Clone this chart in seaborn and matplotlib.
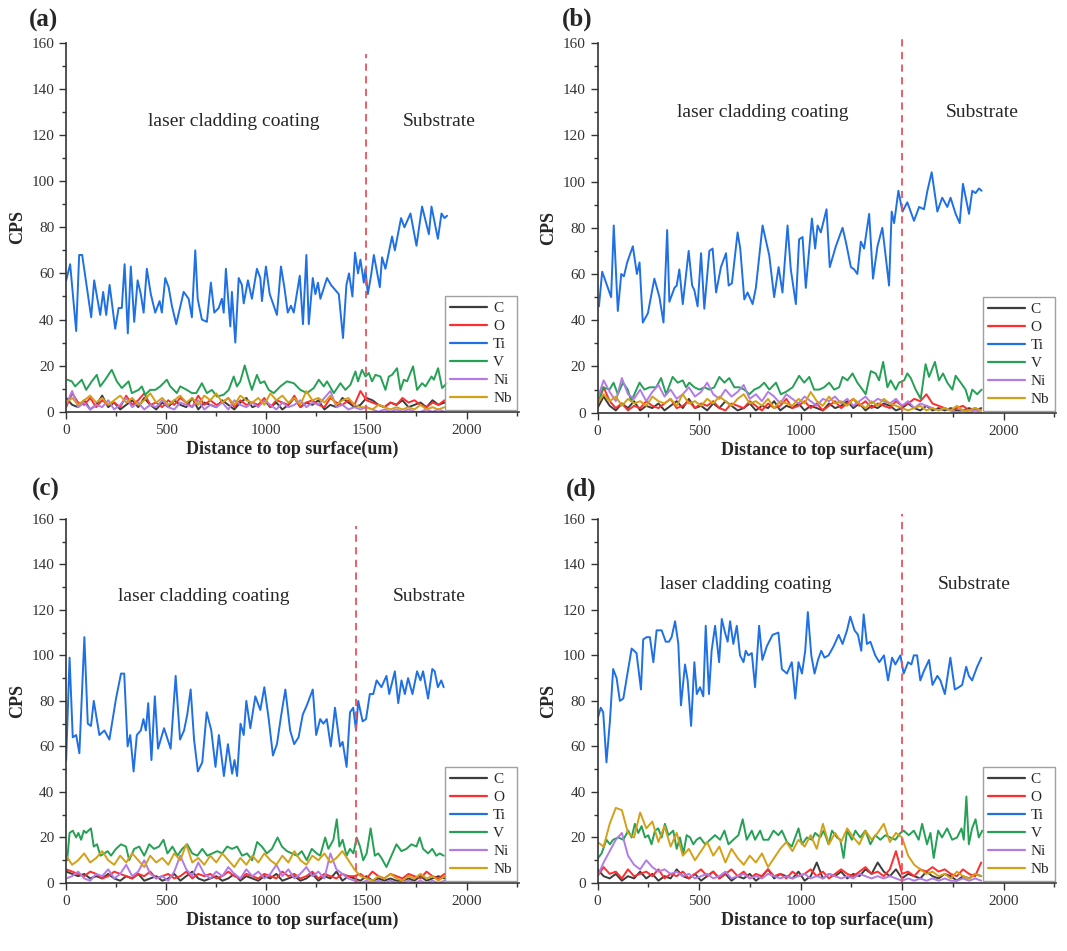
import numpy as np
import pandas as pd
import matplotlib.pyplot as plt
import seaborn as sns

# EDS line scans across the coating / substrate boundary, four samples
elements = ["C", "O", "Ti", "V", "Ni", "Nb"]
palette = {"C": "#3c3c3c", "O": "#ff2d2d", "Ti": "#1f6fe5",
           "V": "#25a055", "Ni": "#b27be6", "Nb": "#d4a017"}
grid_step = 30  # um between points of the C/O/Ni/Nb readings

# Ti and V as (distance um, CPS) pairs
ti_a = [(0, 57), (20, 64), (50, 35), (65, 68), (80, 68), (125, 41), (140, 57), (170, 42), (185, 52),
        (200, 42), (217, 55), (245, 36), (262, 45), (278, 45), (292, 64), (308, 34), (323, 63),
        (340, 39), (357, 57), (373, 51), (387, 43), (403, 62), (423, 51), (445, 43), (467, 48),
        (478, 43), (495, 58), (512, 54), (528, 46), (550, 38), (587, 52), (612, 49), (628, 41),
        (645, 70), (657, 49), (678, 40), (703, 39), (723, 56), (740, 43), (762, 45), (778, 49),
        (787, 43), (798, 62), (820, 37), (828, 52), (845, 30), (862, 58), (878, 55), (887, 47),
        (908, 57), (928, 49), (953, 62), (970, 58), (978, 48), (998, 63), (1017, 51), (1053, 42),
        (1073, 63), (1090, 54), (1107, 43), (1123, 46), (1137, 43), (1167, 59), (1183, 38),
        (1200, 68), (1212, 38), (1232, 58), (1245, 51), (1258, 56), (1270, 49), (1303, 58),
        (1323, 55), (1362, 51), (1383, 32), (1400, 55), (1413, 60), (1430, 50), (1443, 69),
        (1458, 60), (1470, 66), (1487, 56), (1495, 62), (1507, 51), (1523, 59), (1537, 68),
        (1567, 54), (1578, 67), (1595, 62), (1628, 76), (1642, 70), (1673, 84), (1690, 80),
        (1720, 86), (1750, 72), (1778, 89), (1812, 77), (1825, 89), (1857, 75), (1875, 86),
        (1890, 84), (1903, 85)]
v_a = [(7, 13.9), (28, 13.2), (45, 11), (78, 13.9), (100, 9.5), (128, 13.2), (153, 16), (170, 11),
       (195, 13.9), (228, 18.2), (253, 13.2), (278, 10.3), (312, 13.2), (328, 8.1), (362, 9.5),
       (378, 11), (395, 7.4), (420, 9.5), (445, 9.5), (470, 11), (503, 13.9), (520, 11), (553, 8.1),
       (570, 11), (603, 9.5), (628, 8.1), (650, 8.1), (678, 12.4), (703, 8.1), (728, 9.5),
       (753, 6.6), (787, 7.4), (812, 9.5), (837, 15.3), (853, 11), (870, 13.2), (892, 20.1),
       (912, 13.9), (928, 9.5), (953, 16), (970, 12.4), (990, 13.2), (1012, 9.5), (1037, 8.1),
       (1070, 11), (1103, 13.2), (1137, 12.4), (1170, 9.5), (1203, 8.1), (1237, 10.3),
       (1262, 13.9), (1287, 11), (1303, 13.2), (1337, 8.1), (1370, 12.4), (1395, 9.5),
       (1420, 11.7), (1445, 17.5), (1458, 13.2), (1478, 18.2), (1495, 15.3), (1512, 16.8),
       (1528, 13.2), (1545, 16), (1570, 15.3), (1595, 9.5), (1612, 15.3), (1628, 16), (1653, 18.9),
       (1670, 9.5), (1687, 13.9), (1703, 13.2), (1733, 19.7), (1753, 9.5), (1778, 12.4),
       (1795, 11), (1825, 15.3), (1837, 13.9), (1858, 18.9), (1878, 10.3), (1903, 12.4)]

ti_b = [(7, 46), (23, 61), (67, 50), (80, 81), (100, 44), (117, 60), (130, 59), (146, 65), (174, 72),
        (194, 60), (207, 65), (223, 39), (248, 43), (280, 58), (305, 50), (325, 39), (343, 79),
        (354, 48), (379, 54), (390, 55), (403, 62), (420, 47), (449, 70), (466, 55), (477, 53),
        (493, 46), (510, 69), (526, 45), (551, 70), (567, 71), (584, 52), (608, 63), (633, 69),
        (646, 55), (662, 56), (690, 78), (703, 71), (723, 49), (739, 52), (764, 47), (780, 54),
        (813, 81), (846, 68), (870, 50), (892, 63), (911, 52), (936, 81), (952, 62), (977, 47),
        (993, 75), (1010, 76), (1026, 54), (1056, 84), (1072, 71), (1084, 81), (1100, 78),
        (1128, 88), (1144, 63), (1174, 72), (1207, 80), (1223, 74), (1248, 63), (1264, 62),
        (1280, 60), (1297, 74), (1313, 71), (1338, 86), (1357, 58), (1379, 72), (1403, 80),
        (1423, 65), (1436, 55), (1449, 87), (1461, 82), (1482, 96), (1502, 87), (1526, 91),
        (1559, 83), (1584, 89), (1608, 88), (1625, 96), (1646, 104), (1674, 87), (1698, 93),
        (1723, 89), (1739, 93), (1764, 86), (1784, 82), (1800, 99), (1830, 86), (1846, 96),
        (1862, 95), (1879, 97), (1892, 96)]
v_b = [(7, 5), (26, 11), (59, 10), (79, 13), (100, 8), (125, 13), (149, 10), (166, 5), (207, 13),
       (231, 10), (256, 11), (289, 11), (313, 15), (338, 8), (370, 15.5), (395, 13), (420, 14),
       (436, 11), (452, 13), (477, 11), (502, 10), (526, 11), (551, 10), (575, 11), (600, 15.5),
       (625, 13), (649, 15), (674, 11), (698, 11), (723, 10), (748, 8), (772, 10), (797, 11),
       (821, 13), (846, 10), (879, 13), (903, 8), (928, 9), (961, 11), (993, 16), (1018, 13),
       (1043, 15.5), (1067, 10), (1092, 10), (1116, 11), (1141, 13), (1166, 10), (1190, 11),
       (1207, 15.5), (1231, 14), (1256, 17), (1280, 13), (1305, 10), (1321, 8), (1346, 18),
       (1370, 17), (1387, 14), (1407, 22), (1428, 11), (1444, 14), (1469, 10), (1485, 13),
       (1510, 14), (1526, 17), (1543, 15), (1567, 10), (1592, 6), (1616, 21), (1633, 15.5),
       (1662, 22), (1682, 14), (1702, 17), (1723, 13), (1748, 10), (1764, 16), (1789, 13),
       (1813, 10), (1830, 5), (1846, 10), (1870, 8), (1892, 10)]

ti_c = [(0, 54), (17, 99), (33, 64), (50, 65), (66, 57), (91, 108), (108, 70), (124, 69), (138, 80),
        (166, 65), (191, 67), (216, 63), (249, 81), (274, 92), (290, 92), (307, 60), (320, 65),
        (337, 49), (353, 65), (373, 67), (386, 72), (398, 67), (410, 79), (426, 54), (443, 82),
        (459, 59), (489, 68), (522, 59), (547, 91), (569, 63), (589, 67), (605, 74), (622, 85),
        (639, 63), (658, 49), (680, 53), (702, 75), (725, 67), (746, 51), (763, 65), (788, 47),
        (808, 61), (829, 48), (841, 54), (854, 47), (871, 70), (887, 65), (900, 80), (920, 68),
        (945, 82), (970, 76), (990, 86), (1012, 72), (1033, 56), (1053, 61), (1073, 73),
        (1095, 85), (1119, 67), (1139, 61), (1161, 64), (1182, 74), (1202, 78), (1232, 85),
        (1249, 65), (1269, 72), (1285, 70), (1302, 72), (1322, 60), (1343, 77), (1368, 60),
        (1381, 62), (1401, 51), (1418, 75), (1434, 77), (1448, 67), (1459, 80), (1481, 71),
        (1498, 72), (1517, 83), (1534, 83), (1551, 89), (1575, 86), (1600, 91), (1614, 83),
        (1642, 93), (1659, 79), (1675, 89), (1692, 83), (1708, 90), (1730, 83), (1753, 93),
        (1770, 89), (1783, 93), (1808, 81), (1829, 94), (1841, 93), (1857, 86), (1874, 89),
        (1886, 86)]
v_c = [(5, 10), (17, 22), (33, 23), (50, 20), (61, 22), (75, 19), (88, 23), (100, 22), (111, 23),
       (124, 24), (138, 16), (154, 17), (171, 12), (191, 13), (207, 14), (224, 12), (249, 15),
       (274, 17), (299, 16), (315, 10), (340, 15), (365, 16), (390, 12), (415, 17), (439, 15),
       (464, 16), (486, 19), (506, 13), (531, 16), (556, 12), (580, 15), (605, 17), (630, 13),
       (655, 12), (680, 15), (705, 12), (730, 13), (755, 14), (779, 13), (804, 16), (829, 15),
       (854, 16), (879, 12), (904, 13), (929, 10), (954, 18), (978, 16), (1003, 13), (1028, 15),
       (1056, 20), (1078, 16), (1103, 14), (1128, 13), (1153, 12), (1177, 14), (1202, 10),
       (1227, 15), (1252, 13), (1269, 12), (1294, 20), (1310, 15), (1335, 19), (1352, 28),
       (1365, 16), (1381, 19), (1401, 12), (1418, 15), (1435, 13), (1451, 20), (1468, 16),
       (1484, 10), (1501, 13), (1521, 24), (1542, 12), (1559, 13), (1575, 11), (1600, 7),
       (1625, 12), (1650, 17), (1675, 14), (1700, 15), (1725, 17), (1750, 16), (1766, 20),
       (1783, 15), (1808, 13), (1829, 15), (1849, 12), (1866, 13), (1886, 12)]

ti_d = [(0, 72), (16, 77), (28, 75), (44, 53), (61, 71), (77, 94), (94, 90), (110, 80), (127, 81),
        (168, 103), (192, 101), (214, 85), (225, 107), (242, 108), (258, 108), (275, 97),
        (291, 111), (316, 111), (336, 106), (352, 106), (365, 108), (382, 115), (398, 105),
        (411, 78), (431, 96), (444, 89), (461, 69), (477, 97), (489, 83), (505, 86), (521, 82),
        (533, 113), (549, 83), (562, 102), (579, 113), (599, 97), (612, 116), (628, 110),
        (641, 106), (653, 115), (669, 105), (686, 113), (702, 100), (719, 97), (730, 102),
        (743, 100), (760, 101), (776, 86), (796, 113), (812, 98), (834, 104), (862, 109),
        (891, 110), (908, 94), (933, 92), (957, 97), (974, 81), (990, 97), (1007, 92), (1023, 102),
        (1036, 119), (1053, 100), (1069, 92), (1086, 98), (1102, 102), (1118, 99), (1138, 100),
        (1163, 104), (1188, 109), (1207, 105), (1229, 111), (1245, 117), (1266, 111), (1283, 109),
        (1299, 102), (1311, 118), (1327, 105), (1344, 106), (1368, 100), (1388, 97), (1411, 100),
        (1431, 89), (1451, 99), (1467, 96), (1492, 100), (1508, 92), (1530, 97), (1546, 96),
        (1558, 100), (1574, 100), (1590, 89), (1607, 93), (1633, 98), (1650, 87), (1674, 91),
        (1689, 89), (1711, 83), (1738, 99), (1760, 85), (1780, 86), (1796, 87), (1816, 95),
        (1829, 91), (1845, 89), (1870, 95), (1891, 99)]
v_d = [(3, 11), (20, 13), (44, 19), (61, 17), (77, 19), (102, 20), (127, 19), (151, 23), (168, 20),
       (184, 26), (201, 22), (217, 25), (234, 20), (250, 21), (266, 17), (283, 23), (299, 24),
       (316, 20), (332, 26), (349, 21), (373, 23), (390, 15), (406, 20), (423, 13), (439, 21),
       (456, 20), (472, 17), (488, 19), (505, 20), (530, 17), (554, 19), (579, 21), (604, 19),
       (625, 23), (645, 17), (669, 19), (694, 21), (715, 28), (735, 19), (760, 23), (776, 19),
       (801, 23), (817, 19), (842, 19), (867, 23), (891, 21), (908, 23), (933, 18), (957, 16),
       (990, 24), (1007, 17), (1031, 20), (1056, 19), (1072, 22), (1097, 20), (1114, 23),
       (1138, 17), (1155, 23), (1179, 20), (1196, 19), (1212, 11), (1229, 23), (1253, 19),
       (1270, 23), (1294, 20), (1319, 23), (1344, 17), (1368, 21), (1393, 19), (1418, 21),
       (1442, 20), (1467, 19), (1492, 22), (1508, 23), (1533, 21), (1558, 23), (1582, 19),
       (1599, 26), (1623, 17), (1640, 22), (1656, 11), (1678, 23), (1697, 20), (1722, 24),
       (1747, 19), (1771, 20), (1793, 24), (1804, 19), (1817, 38), (1829, 17), (1845, 24),
       (1862, 28), (1878, 20), (1895, 23)]

# minor elements, one reading every grid_step um from 0
c_a = [6, 3, 2, 5, 1, 3, 7, 2, 4, 1, 3, 5, 2, 6, 3, 1, 4, 2, 5, 3, 2, 6, 1, 4, 3, 2, 5, 3, 1, 4, 6, 2,
       3, 5, 2, 4, 1, 3, 6, 2, 4, 3, 5, 1, 3, 2, 6, 4, 2, 3, 6, 5, 3, 2, 4, 3, 5, 2, 3, 4, 2, 5, 3, 4]
o_a = [2, 8, 4, 3, 6, 2, 5, 3, 4, 2, 7, 3, 5, 8, 3, 4, 2, 5, 3, 6, 4, 2, 7, 3, 5, 3, 4, 6, 2, 5, 3, 4,
       3, 6, 2, 5, 4, 3, 7, 2, 4, 5, 3, 2, 6, 4, 3, 5, 3, 9, 5, 4, 3, 2, 4, 3, 6, 4, 5, 3, 2, 4, 3, 5]
ni_a = [3, 9, 2, 4, 1, 3, 2, 5, 1, 3, 6, 2, 4, 1, 3, 2, 5, 2, 1, 4, 3, 2, 5, 1, 3, 2, 4, 1, 5, 3, 2, 4,
        2, 5, 3, 1, 4, 2, 3, 5, 2, 4, 3, 6, 9, 2, 3, 1, 2, 1, 2, 1, 0, 1, 0, 1, 0, 1, 0, 0, 1, 0, 1, 0]
nb_a = [4, 6, 3, 5, 7, 4, 6, 3, 5, 7, 4, 6, 3, 5, 8, 4, 6, 3, 5, 7, 4, 6, 3, 7, 5, 8, 4, 6, 3, 7, 5, 4,
        6, 3, 8, 5, 7, 4, 6, 3, 9, 5, 6, 4, 7, 3, 5, 6, 3, 2, 2, 1, 3, 2, 1, 2, 1, 2, 1, 3, 1, 2, 1, 2]

c_b = [2, 7, 3, 1, 4, 2, 5, 1, 3, 2, 4, 1, 3, 5, 2, 6, 2, 3, 1, 4, 2, 5, 3, 1, 2, 4, 1, 3, 2, 5, 1, 3,
       2, 4, 1, 3, 2, 1, 4, 2, 3, 5, 2, 4, 1, 3, 2, 4, 3, 1, 2, 4, 2, 1, 3, 1, 2, 1, 2, 1, 1, 2, 1, 2]
o_b = [3, 11, 5, 2, 4, 1, 3, 2, 5, 3, 2, 4, 6, 2, 3, 5, 2, 4, 3, 5, 2, 1, 4, 3, 2, 5, 3, 1, 4, 2, 3, 6,
       2, 3, 5, 2, 4, 1, 3, 5, 2, 4, 6, 3, 5, 2, 4, 3, 2, 5, 3, 4, 6, 5, 8, 4, 3, 2, 1, 2, 3, 1, 2, 1]
ni_b = [6, 14, 9, 5, 15, 8, 6, 10, 5, 9, 12, 7, 10, 6, 8, 11, 7, 9, 13, 8, 6, 10, 7, 9, 12, 6, 8, 5, 9,
        7, 4, 8, 6, 4, 7, 5, 3, 6, 5, 7, 4, 6, 3, 5, 7, 4, 6, 5, 4, 6, 3, 5, 2, 4, 3, 2, 1, 2, 1, 0, 1,
        0, 1, 0]
nb_b = [4, 8, 5, 7, 3, 6, 4, 5, 3, 7, 5, 4, 6, 3, 8, 4, 5, 3, 6, 4, 7, 5, 3, 6, 8, 4, 5, 3, 6, 2, 5, 4,
        3, 6, 4, 9, 5, 3, 7, 4, 5, 3, 6, 4, 2, 5, 3, 6, 4, 3, 2, 1, 2, 3, 1, 2, 1, 2, 1, 3, 1, 1, 2, 1]

c_c = [5, 4, 3, 4, 2, 3, 2, 4, 2, 1, 3, 2, 4, 1, 2, 3, 1, 2, 4, 1, 3, 5, 2, 1, 2, 3, 1, 2, 4, 1, 3, 2,
       1, 3, 2, 4, 1, 2, 3, 1, 2, 4, 1, 3, 2, 5, 1, 3, 2, 1, 3, 1, 2, 1, 2, 1, 1, 2, 1, 3, 1, 2, 3, 2]
o_c = [6, 5, 4, 3, 5, 4, 2, 3, 5, 4, 3, 2, 4, 3, 5, 2, 3, 4, 2, 3, 5, 2, 4, 3, 4, 2, 3, 5, 3, 2, 4, 3,
       2, 4, 3, 2, 5, 3, 4, 2, 3, 5, 2, 4, 3, 2, 4, 3, 3, 4, 2, 5, 3, 2, 4, 3, 2, 4, 3, 2, 5, 3, 2, 4]
ni_c = [2, 3, 5, 2, 1, 4, 3, 6, 2, 4, 8, 3, 5, 10, 4, 2, 3, 1, 5, 12, 6, 3, 9, 4, 2, 5, 3, 7, 4, 2, 6, 3,
        5, 2, 4, 8, 3, 6, 2, 4, 7, 3, 5, 2, 13, 6, 4, 2, 1, 0, 1, 0, 1, 0, 1, 0, 0, 1, 0, 1, 0, 1, 0, 1]
nb_c = [12, 8, 10, 13, 9, 11, 14, 10, 8, 12, 9, 13, 10, 7, 12, 9, 11, 8, 13, 10, 17, 9, 11, 8, 12, 9,
        13, 10, 7, 11, 8, 12, 9, 13, 10, 8, 12, 9, 14, 10, 8, 12, 10, 13, 9, 11, 14, 10, 6, 3, 2, 1, 3,
        2, 4, 2, 1, 3, 2, 4, 2, 3, 1, 3]

c_d = [6, 3, 2, 4, 1, 3, 2, 5, 2, 4, 1, 3, 2, 6, 3, 2, 4, 1, 3, 5, 2, 4, 1, 3, 2, 4, 1, 3, 6, 2, 4, 3,
       2, 5, 1, 3, 9, 2, 4, 3, 5, 2, 4, 3, 6, 4, 9, 5, 3, 6, 2, 4, 3, 2, 5, 3, 2, 4, 3, 1, 3, 2, 4, 3]
o_d = [3, 7, 4, 5, 2, 6, 3, 4, 5, 3, 6, 2, 4, 3, 5, 2, 4, 6, 3, 5, 2, 4, 6, 3, 5, 2, 4, 3, 6, 3, 4, 2,
       5, 3, 4, 6, 3, 5, 2, 4, 6, 4, 3, 5, 7, 4, 5, 3, 6, 14, 4, 5, 3, 6, 5, 7, 5, 6, 4, 3, 6, 4, 3, 9]
ni_d = [3, 9, 14, 19, 22, 12, 8, 6, 10, 7, 5, 6, 4, 5, 3, 4, 2, 3, 4, 2, 3, 5, 2, 3, 4, 2, 3, 2, 4, 3,
        2, 3, 2, 3, 4, 2, 3, 2, 4, 3, 2, 3, 2, 4, 3, 2, 3, 2, 3, 2, 1, 2, 1, 2, 1, 2, 1, 2, 1, 1, 2, 1,
        2, 1]
nb_d = [18, 16, 26, 33, 32, 22, 20, 31, 24, 27, 18, 25, 16, 22, 12, 15, 10, 14, 18, 12, 16, 9, 15, 11,
        8, 12, 9, 13, 7, 11, 15, 18, 14, 19, 16, 21, 15, 26, 17, 22, 18, 24, 20, 17, 23, 19, 22, 26,
        18, 22, 20, 12, 8, 6, 4, 5, 3, 4, 2, 5, 3, 2, 4, 3]

panel_labels = ["(a)", "(b)", "(c)", "(d)"]
boundaries = [1500, 1500, 1450, 1500]
scans = [
    {"C": c_a, "O": o_a, "Ti": ti_a, "V": v_a, "Ni": ni_a, "Nb": nb_a},
    {"C": c_b, "O": o_b, "Ti": ti_b, "V": v_b, "Ni": ni_b, "Nb": nb_b},
    {"C": c_c, "O": o_c, "Ti": ti_c, "V": v_c, "Ni": ni_c, "Nb": nb_c},
    {"C": c_d, "O": o_d, "Ti": ti_d, "V": v_d, "Ni": ni_d, "Nb": nb_d},
]
# where the two region captions sit (distance, CPS)
coating_text_pos = [(835, 126), (813, 130), (685, 126), (729, 131)]
substrate_text_pos = [(1865, 126), (1897, 130), (1815, 126), (1857, 131)]
dash_tops = [155, 164, 157, 162]


def to_frame(scan):
    parts = []
    for el in elements:
        vals = scan[el]
        if isinstance(vals[0], tuple):
            xs, ys = zip(*vals)
        else:
            xs, ys = np.arange(len(vals)) * grid_step, vals
        parts.append(pd.DataFrame({"dist": xs, "cps": ys, "element": el}))
    return pd.concat(parts, ignore_index=True)


sns.set_style("ticks")
plt.rcParams["font.family"] = ["Liberation Serif", "DejaVu Serif"]

fig = plt.figure(figsize=(10.67, 9.51), dpi=100)
# axes rectangles in figure fractions
rects = [(0.062, 0.567, 0.424, 0.388),
         (0.560, 0.566, 0.430, 0.389),
         (0.062, 0.0715, 0.424, 0.383),
         (0.560, 0.0715, 0.430, 0.383)]
label_xy = [(0.027, 0.979), (0.527, 0.980), (0.030, 0.485), (0.530, 0.485)]

for i, rect in enumerate(rects):
    ax = fig.add_axes(rect)
    df = to_frame(scans[i])
    for el in elements:
        sns.lineplot(data=df[df["element"] == el], x="dist", y="cps", color=palette[el],
                     linewidth=1.4, estimator=None, sort=False, label=el, ax=ax)

    b = boundaries[i]
    ax.plot([b, b], [0, dash_tops[i]], color="#f0505a", linestyle=(0, (4, 3)),
            linewidth=1.3, clip_on=False)

    ax.text(*coating_text_pos[i], "laser cladding coating", ha="center", va="center", fontsize=14)
    ax.text(*substrate_text_pos[i], "Substrate", ha="center", va="center", fontsize=14)

    ax.set_xlim(0, 2260)
    ax.set_ylim(0, 160)
    ax.set_xticks([0, 500, 1000, 1500, 2000])
    ax.set_xticks(np.arange(250, 2260, 500), minor=True)
    ax.set_yticks(np.arange(0, 161, 20))
    ax.set_yticks(np.arange(10, 160, 20), minor=True)
    ax.tick_params(axis="both", which="major", direction="out", length=5, width=1,
                   labelsize=11, colors="#333333")
    ax.tick_params(axis="both", which="minor", direction="out", length=3, width=1, color="#333333")
    ax.set_xlabel("Distance to top surface(um)", fontsize=13, fontweight="bold", labelpad=3)
    ax.set_ylabel("CPS", fontsize=13, fontweight="bold", labelpad=4)
    sns.despine(ax=ax)
    for side in ["left", "bottom"]:
        ax.spines[side].set_linewidth(1.2)
        ax.spines[side].set_color("#333333")

    leg = ax.legend(loc="lower right", fontsize=11, handlelength=2.4, labelspacing=0.28,
                    borderpad=0.35, borderaxespad=0.1, handletextpad=0.4,
                    frameon=True, fancybox=False, edgecolor="#888888")
    leg.get_frame().set_linewidth(1.0)
    for line in leg.get_lines():
        line.set_linewidth(1.6)

    fig.text(*label_xy[i], panel_labels[i], fontsize=18, fontweight="bold", ha="left", va="center")

fig.savefig("out.png", dpi=100)
